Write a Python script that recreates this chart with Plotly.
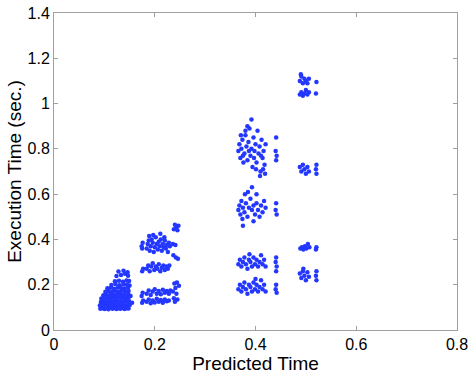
import plotly.graph_objects as go

# cluster around predicted 0.1 - 0.15
x_a = [0.092, 0.096, 0.100, 0.104, 0.108, 0.112, 0.116, 0.120, 0.124, 0.128, 0.132, 0.136, 0.140, 0.144, 0.148,
       0.091, 0.095, 0.099, 0.103, 0.107, 0.111, 0.115, 0.119, 0.123, 0.127, 0.131, 0.135, 0.139, 0.143, 0.147, 0.150,
       0.093, 0.097, 0.101, 0.105, 0.109, 0.113, 0.117, 0.121, 0.125, 0.129, 0.133, 0.137, 0.141, 0.145, 0.149,
       0.094, 0.099, 0.104, 0.108, 0.112, 0.117, 0.121, 0.126, 0.130, 0.134, 0.139, 0.143, 0.148,
       0.098, 0.103, 0.108, 0.113, 0.118, 0.123, 0.128, 0.133, 0.138, 0.143, 0.148,
       0.102, 0.108, 0.114, 0.119, 0.125, 0.131, 0.136, 0.142, 0.148,
       0.106, 0.113, 0.120, 0.127, 0.133, 0.140, 0.147,
       0.114, 0.122, 0.130, 0.138, 0.145, 0.150,
       0.121, 0.129, 0.137, 0.144, 0.149,
       0.124, 0.133, 0.141, 0.147, 0.128, 0.138, 0.146, 0.152, 0.155]
y_a = [0.094, 0.097, 0.093, 0.096, 0.092, 0.098, 0.094, 0.097, 0.093, 0.096, 0.094, 0.098, 0.093, 0.096, 0.095,
       0.108, 0.112, 0.106, 0.111, 0.109, 0.113, 0.107, 0.111, 0.109, 0.114, 0.108, 0.112, 0.110, 0.107, 0.112, 0.109,
       0.124, 0.128, 0.122, 0.127, 0.125, 0.129, 0.123, 0.126, 0.130, 0.124, 0.127, 0.122, 0.128, 0.125, 0.127,
       0.139, 0.142, 0.138, 0.143, 0.140, 0.144, 0.139, 0.142, 0.145, 0.138, 0.143, 0.140, 0.142,
       0.154, 0.157, 0.152, 0.158, 0.155, 0.153, 0.159, 0.154, 0.157, 0.152, 0.156,
       0.169, 0.172, 0.167, 0.173, 0.170, 0.168, 0.174, 0.169, 0.172,
       0.184, 0.187, 0.182, 0.188, 0.185, 0.183, 0.187,
       0.199, 0.203, 0.198, 0.202, 0.200, 0.197,
       0.215, 0.218, 0.213, 0.219, 0.216,
       0.238, 0.243, 0.248, 0.240, 0.258, 0.262, 0.255, 0.150, 0.120]

# cluster around predicted 0.18 - 0.25
x_b = [0.174, 0.176, 0.175, 0.177, 0.175, 0.176, 0.174, 0.177, 0.175,
       0.184, 0.186, 0.188, 0.190, 0.192, 0.194, 0.196, 0.198, 0.200, 0.202, 0.204, 0.206, 0.208, 0.210,
       0.212, 0.214, 0.216, 0.218, 0.220, 0.222, 0.224, 0.226, 0.228, 0.230, 0.189, 0.197, 0.211, 0.219,
       0.184, 0.187, 0.190, 0.193, 0.196, 0.199, 0.202, 0.205, 0.208, 0.211, 0.214, 0.217, 0.220, 0.223, 0.226, 0.229,
       0.184, 0.188, 0.192, 0.196, 0.200, 0.204, 0.208, 0.212, 0.216, 0.220, 0.224, 0.228, 0.231,
       0.184, 0.188, 0.192, 0.196, 0.200, 0.204, 0.208, 0.212, 0.216, 0.220, 0.224, 0.228,
       0.238, 0.243, 0.247, 0.240, 0.245, 0.236, 0.241, 0.237, 0.242, 0.246,
       0.239, 0.244, 0.248, 0.241, 0.236, 0.243, 0.238, 0.245, 0.240]
y_b = [0.370, 0.385, 0.360, 0.270, 0.260, 0.165, 0.150, 0.130, 0.120,
       0.360, 0.380, 0.395, 0.350, 0.370, 0.400, 0.385, 0.345, 0.365, 0.410, 0.380, 0.355, 0.390, 0.370,
       0.400, 0.350, 0.380, 0.365, 0.395, 0.360, 0.375, 0.345, 0.385, 0.370, 0.415, 0.420, 0.425, 0.410,
       0.270, 0.285, 0.260, 0.280, 0.295, 0.265, 0.280, 0.270, 0.290, 0.260, 0.275, 0.285, 0.265, 0.280, 0.270, 0.285,
       0.160, 0.175, 0.155, 0.170, 0.180, 0.160, 0.172, 0.158, 0.178, 0.165, 0.172, 0.160, 0.175,
       0.125, 0.135, 0.118, 0.130, 0.122, 0.138, 0.125, 0.132, 0.120, 0.135, 0.127, 0.130,
       0.445, 0.455, 0.460, 0.465, 0.440, 0.380, 0.375, 0.330, 0.320, 0.315,
       0.205, 0.210, 0.195, 0.185, 0.170, 0.160, 0.140, 0.135, 0.125]

# cluster around predicted 0.37 - 0.44
x_c = [0.366, 0.368, 0.370, 0.372, 0.374, 0.376, 0.378, 0.380, 0.382, 0.384, 0.386, 0.388, 0.390, 0.392,
       0.394, 0.396, 0.398, 0.400, 0.402, 0.404, 0.406, 0.408, 0.410, 0.412, 0.414, 0.416, 0.418, 0.420,
       0.392, 0.384, 0.380, 0.371, 0.401, 0.409, 0.415, 0.419, 0.375, 0.387, 0.397, 0.411,
       0.441, 0.440, 0.442, 0.441,
       0.366, 0.368, 0.370, 0.372, 0.375, 0.378, 0.381, 0.384, 0.387, 0.390, 0.393, 0.396, 0.399,
       0.402, 0.405, 0.408, 0.411, 0.414, 0.417, 0.420, 0.385, 0.393, 0.379, 0.402, 0.374, 0.396,
       0.441, 0.440, 0.442,
       0.366, 0.369, 0.372, 0.375, 0.378, 0.381, 0.384, 0.387, 0.390, 0.393, 0.396, 0.399, 0.402,
       0.405, 0.408, 0.411, 0.414, 0.417, 0.420, 0.388,
       0.441, 0.440, 0.442, 0.441,
       0.366, 0.369, 0.372, 0.375, 0.378, 0.381, 0.384, 0.387, 0.390, 0.393, 0.396, 0.399, 0.402,
       0.405, 0.408, 0.411, 0.414, 0.417, 0.420, 0.400,
       0.441, 0.440, 0.442, 0.375]
y_c = [0.79, 0.82, 0.76, 0.80, 0.84, 0.74, 0.78, 0.86, 0.81, 0.75, 0.83, 0.89, 0.77, 0.80,
       0.72, 0.85, 0.79, 0.82, 0.74, 0.88, 0.78, 0.81, 0.70, 0.84, 0.76, 0.79, 0.73, 0.82,
       0.93, 0.90, 0.88, 0.86, 0.71, 0.68, 0.71, 0.69, 0.77, 0.79, 0.76, 0.77,
       0.85, 0.79, 0.77, 0.75,
       0.53, 0.55, 0.51, 0.57, 0.54, 0.52, 0.56, 0.50, 0.54, 0.58, 0.53, 0.55, 0.51,
       0.56, 0.53, 0.50, 0.55, 0.52, 0.57, 0.54, 0.61, 0.63, 0.60, 0.60, 0.49, 0.48,
       0.56, 0.53, 0.51,
       0.29, 0.31, 0.28, 0.30, 0.32, 0.29, 0.27, 0.31, 0.30, 0.28, 0.32, 0.29, 0.31,
       0.28, 0.30, 0.33, 0.29, 0.31, 0.28, 0.335,
       0.32, 0.30, 0.28, 0.26,
       0.18, 0.20, 0.17, 0.19, 0.21, 0.18, 0.16, 0.20, 0.19, 0.17, 0.21, 0.18, 0.20,
       0.17, 0.19, 0.22, 0.18, 0.20, 0.17, 0.225,
       0.20, 0.18, 0.165, 0.46]

# cluster around predicted 0.49 - 0.52
x_d = [0.488, 0.491, 0.494, 0.497, 0.500, 0.503, 0.506, 0.490,
       0.488, 0.491, 0.494, 0.497, 0.500, 0.503, 0.506,
       0.521, 0.520,
       0.488, 0.491, 0.494, 0.497, 0.500, 0.503, 0.506,
       0.521, 0.520, 0.521,
       0.489, 0.492, 0.495, 0.498, 0.501, 0.504, 0.507,
       0.521, 0.520,
       0.488, 0.491, 0.494, 0.497, 0.500, 0.503, 0.506, 0.495,
       0.521, 0.520, 0.521]
y_d = [1.100, 1.120, 1.090, 1.110, 1.100, 1.090, 1.110, 1.130,
       1.040, 1.050, 1.035, 1.045, 1.060, 1.040, 1.050,
       1.095, 1.045,
       0.720, 0.700, 0.730, 0.710, 0.690, 0.720, 0.700,
       0.730, 0.710, 0.690,
       0.360, 0.365, 0.355, 0.370, 0.360, 0.380, 0.365,
       0.365, 0.355,
       0.250, 0.230, 0.260, 0.240, 0.220, 0.255, 0.235, 0.270,
       0.260, 0.240, 0.220]

pred = x_a + x_b + x_c + x_d
exec_time = y_a + y_b + y_c + y_d

fig = go.Figure()
fig.add_trace(
    go.Scatter(
        x = pred,
        y = exec_time,
        mode = 'markers',
        marker = dict(color = 'rgb(35,55,255)', size = 4.5, line = dict(width = 0)),
        showlegend = False
    )
)

axis_style = dict(
    showline = True, mirror = 'allticks', linecolor = '#a0a0a0', linewidth = 1,
    ticks = 'inside', ticklen = 4, tickcolor = '#a0a0a0',
    showgrid = False, zeroline = False, automargin = False,
    tickfont = dict(size = 16, color = 'black'),
)

fig.update_layout(
    width = 474,
    height = 374,
    plot_bgcolor = 'white',
    paper_bgcolor = 'white',
    margin = dict(l = 54, r = 17, t = 13, b = 44),
    font = dict(family = 'Liberation Sans, Arial, sans-serif', size = 16, color = 'black'),
)
fig.update_xaxes(range = [0, 0.8], tickvals = [0, 0.2, 0.4, 0.6, 0.8],
                 ticktext = ['0', '0.2', '0.4', '0.6', '0.8'],
                 title = dict(text = 'Predicted Time', standoff = 5), **axis_style)
fig.update_yaxes(range = [0, 1.4], tickvals = [0, 0.2, 0.4, 0.6, 0.8, 1, 1.2, 1.4],
                 ticktext = ['0', '0.2', '0.4', '0.6', '0.8', '1', '1.2', '1.4'],
                 title = dict(text = 'Execution Time (sec.)', standoff = 0), **axis_style)

# drop the default 8px page margin so the figure fills the window
fig.write_html("out.html", config = {'displayModeBar': False},
               post_script = "document.body.style.margin = '0'; document.body.style.overflow = 'hidden';")
